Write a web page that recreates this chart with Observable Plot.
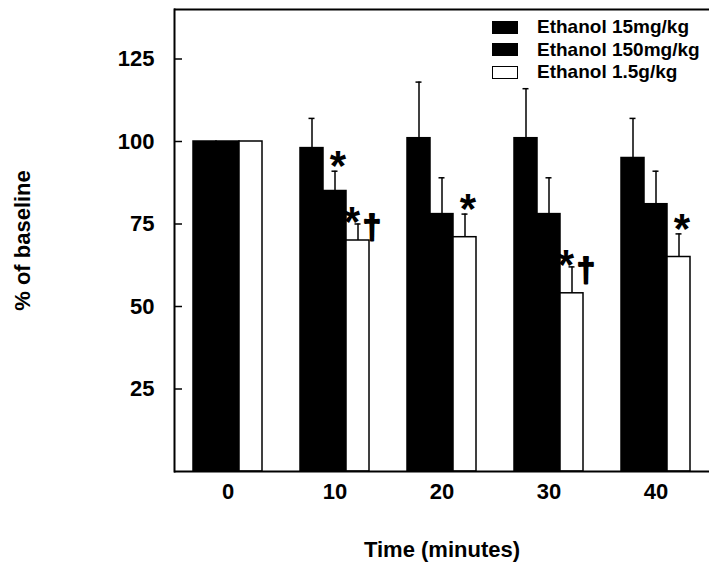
<!DOCTYPE html>
<html>
<head>
<meta charset="utf-8">
<script src="https://cdn.jsdelivr.net/npm/d3@7"></script>
<script src="https://cdn.jsdelivr.net/npm/@observablehq/plot@0.6"></script>
<style>
  body { margin: 0; background: #fff; }
  #wrap { position: relative; width: 710px; height: 569px; font-family: Arial, "Liberation Sans", sans-serif; }
  #legend { position: absolute; left: 492px; top: 16px; font-size: 19px; font-weight: bold; color: #000; z-index: 2; }
  .row { display: flex; align-items: center; height: 22.5px; white-space: nowrap; }
  .sw { width: 26px; height: 13px; box-sizing: border-box; border: 1.5px solid #000; margin-right: 19px; }
</style>
</head>
<body>
<div id="wrap"><div id="legend"></div></div>
<script>
// ---- data ----
const times = [0, 10, 20, 30, 40];
const series = ["Ethanol 15mg/kg", "Ethanol 150mg/kg", "Ethanol 1.5g/kg"];
const seriesColors = ["#000000", "#000000", "#ffffff"];
const low = [100, 98, 101, 101, 95];
const lowErr = [0, 9, 17, 15, 12];
const mid = [100, 85, 78, 78, 81];
const midErr = [0, 6, 11, 11, 10];
const high = [100, 70, 71, 54, 65];
const highErr = [0, 5, 7, 8, 7];
// significance marks: "*" and "†" placed over the bar (time, series index)
const starTimes = [10, 10, 20, 30, 40];
const starSeries = [1, 2, 2, 2, 2];
const daggerTimes = [10, 30];
const daggerSeries = [2, 2];
const yTicks = [25, 50, 75, 100, 125];
const yDomain = [0, 140];

// ---- build tables ----
const values = [low, mid, high];
const errs = [lowErr, midErr, highErr];
const rows = [];
values.forEach((vals, si) => vals.forEach((v, ti) => {
  rows.push({time: times[ti], series: series[si], value: v, err: errs[si][ti]});
}));
const errRows = rows.filter(d => d.err > 0);
const topOf = (t, s) => { const r = rows.find(d => d.time === t && d.series === s); return r.value + r.err; };
const daggers = daggerTimes.map((t, i) => ({time: t, series: series[daggerSeries[i]], top: topOf(t, series[daggerSeries[i]])}));
const stars = starTimes.map((t, i) => {
  const s = series[starSeries[i]];
  return {time: t, series: s, top: topOf(t, s), paired: daggers.some(d => d.time === t && d.series === s)};
});

const chart = Plot.plot({
  width: 710,
  height: 569,
  marginLeft: 173,
  marginRight: 0,
  marginTop: 9,
  marginBottom: 98,
  style: {fontFamily: "Arial, 'Liberation Sans', sans-serif", fontSize: "22px", fontWeight: "bold", color: "#000", background: "#fff"},
  fx: {domain: times, padding: 0},
  x: {domain: series, paddingInner: 0, paddingOuter: 0.74, axis: null},
  y: {domain: yDomain},
  color: {domain: series, range: seriesColors},
  marks: [
    Plot.barY(rows, {fx: "time", x: "series", y: "value", fill: "series", stroke: "#000", strokeWidth: 1.5}),
    Plot.ruleX(errRows, {fx: "time", x: "series", y1: "value", y2: d => d.value + d.err, stroke: "#000", strokeWidth: 1.5}),
    Plot.tickY(errRows, {fx: "time", x: "series", y: d => d.value + d.err, insetLeft: 8.5, insetRight: 8.5, stroke: "#000", strokeWidth: 1.5}),
    Plot.ruleY([yDomain[0], yDomain[1]], {stroke: "#000", strokeWidth: 2}),
    Plot.frame({anchor: "left", facetAnchor: "left", stroke: "#000", strokeWidth: 2}),
    // y tick labels
    Plot.axisY(yTicks, {tickSize: 0, tickPadding: 20, label: null}),
    // inward y tick marks
    Plot.axisY(yTicks, {tickSize: 8, dx: 8, tickFormat: () => "", label: null, strokeWidth: 1.5}),
    // y axis title
    Plot.axisY(yTicks, {tickSize: 0, tickFormat: () => "", label: "% of baseline", labelAnchor: "center", labelOffset: 160, labelArrow: "none", dy: 11}),
    // fx tick labels
    Plot.axisFx({anchor: "bottom", tickSize: 0, tickPadding: 12, label: null}),
    // x axis title
    Plot.axisFx({anchor: "bottom", tickSize: 0, tickFormat: () => "", label: "Time (minutes)", labelAnchor: "center", labelOffset: 85, labelArrow: "none", dx: 7}),
    Plot.text(stars.filter(d => !d.paired), {fx: "time", x: "series", y: "top", text: () => "*", fontSize: 42, fontWeight: "bold", lineAnchor: "bottom", dy: 9, dx: 3, fill: "#000"}),
    Plot.text(stars.filter(d => d.paired), {fx: "time", x: "series", y: "top", text: () => "*", fontSize: 42, fontWeight: "bold", lineAnchor: "bottom", dy: 12, dx: -6, fill: "#000"}),
    Plot.text(daggers, {fx: "time", x: "series", y: "top", text: () => "\u2020", fontSize: 33, fontWeight: "bold", lineAnchor: "bottom", dy: 14, dx: 14, fill: "#000", stroke: "#000", strokeWidth: 1.8})
  ]
});
document.getElementById("wrap").prepend(chart);

// legend
const legend = document.getElementById("legend");
series.forEach((s, i) => {
  const row = document.createElement("div");
  row.className = "row";
  const sw = document.createElement("div");
  sw.className = "sw";
  sw.style.background = seriesColors[i];
  const label = document.createElement("span");
  label.textContent = s;
  row.appendChild(sw);
  row.appendChild(label);
  legend.appendChild(row);
});
</script>
</body>
</html>
